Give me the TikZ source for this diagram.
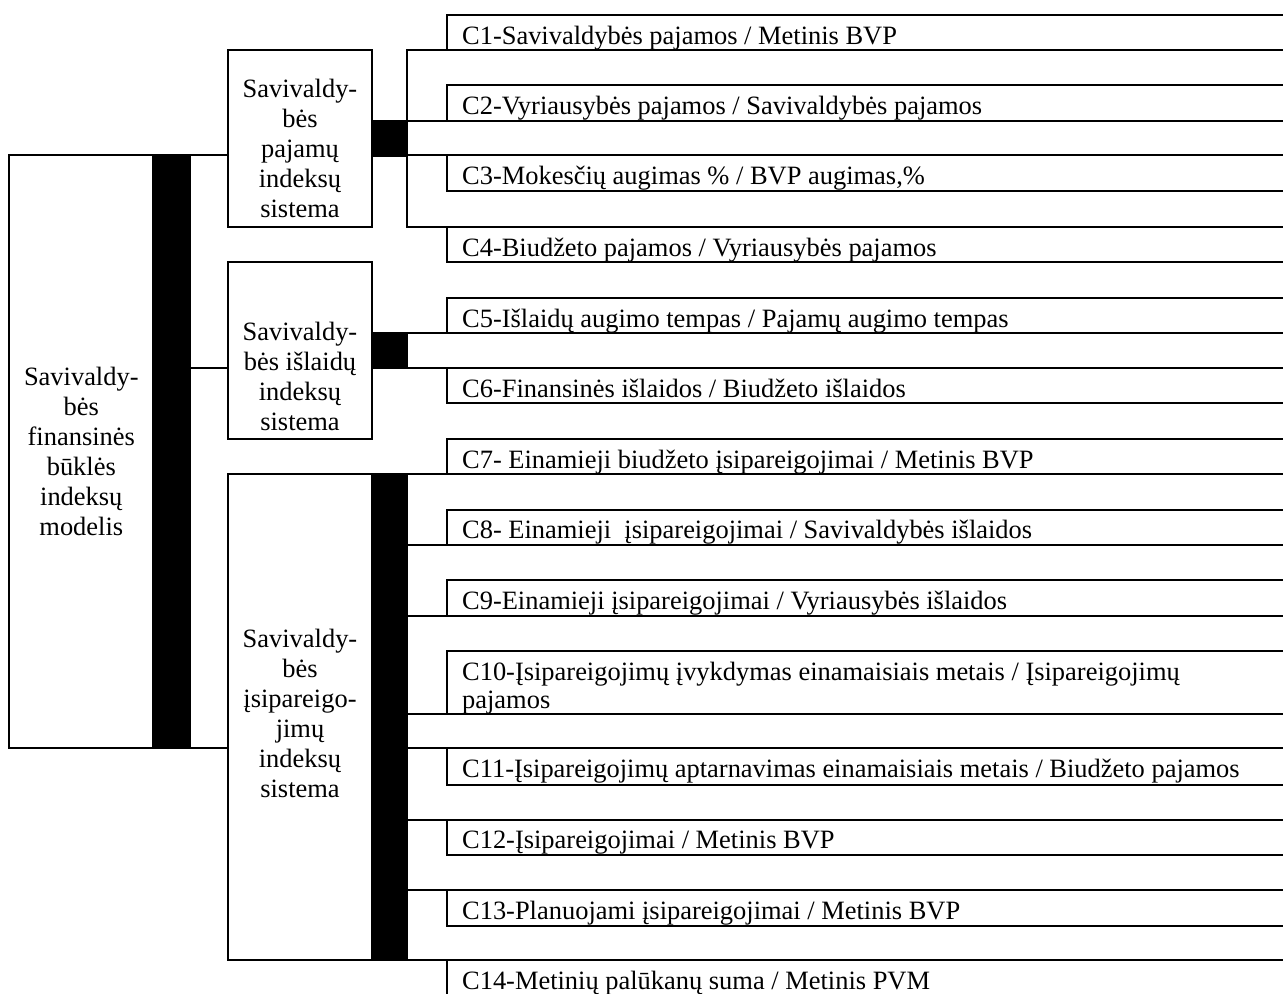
\documentclass[tikz,border=0pt]{standalone}
\usepackage{fontspec}
\setmainfont{Liberation Serif}
\usepackage{tikz}
\usetikzlibrary{positioning}
\newcommand{\pxu}{0.45pt}
\tikzset{
	sysbox/.style={draw, line width=0.9pt, inner sep=0pt, outer sep=0pt, minimum width=144.6*\pxu},
	sysbar/.style={draw, fill=black, line width=0.9pt, inner sep=0pt, outer sep=0pt, minimum width=35*\pxu},
	cbox/.style={draw, line width=0.9pt, inner sep=0pt, outer sep=0pt, minimum width=880*\pxu, anchor=north west},
	systext/.style={align=center, inner sep=0pt, anchor=north},
	ctext/.style={align=left, inner sep=0pt, anchor=north west, font=\fontsize{11.9}{12.9}\selectfont},
	link/.style={line width=0.9pt}
}

\begin{document}
\begin{tikzpicture}[x=\pxu, y=-\pxu, font=\fontsize{11.9}{13.5}\selectfont]
	% page
	\useasboundingbox (0,0) rectangle (1283,993);
	\clip (0,0) rectangle (1283,993);
	% model
	\node[sysbox, minimum width=144*\pxu, minimum height=593*\pxu] (model) at (81.3,451.5) {};
	\node[sysbar, minimum width=36.7*\pxu, minimum height=593*\pxu, right=0pt of model] (modelbar) {};
	\node[systext] (modeltxt) at (81.3,367) {Savivaldy-\\bės\\finansinės\\būklės\\indeksų\\modelis};
	% systems
	\node[sysbox, minimum height=177*\pxu] (rev) at (300,138.5) {};
	\node[sysbar, minimum height=34.3*\pxu, right=0pt of rev] (revbar) {};
	\node[systext] (revtxt) at (300,78.7) {Savivaldy-\\bės\\pajamų\\indeksų\\sistema};
	\node[sysbox, minimum height=176.5*\pxu] (exp) at (300,350.25) {};
	\node[sysbar, minimum height=35.5*\pxu, right=0pt of exp] (expbar) {};
	\node[systext] (exptxt) at (300,322) {Savivaldy-\\bės išlaidų\\indeksų\\sistema};
	\node[sysbox, minimum height=486*\pxu] (debt) at (300,717) {};
	\node[sysbar, minimum height=486*\pxu, right=0pt of debt] (debtbar) {};
	\node[systext] (debttxt) at (300,628.7) {Savivaldy-\\bės\\įsipareigo-\\jimų\\indeksų\\sistema};
	% links to the systems
	\draw[link] (modelbar.north east) -- (modelbar.north east -| rev.west);
	\draw[link] (modelbar.east |- expbar.south) -- (exp.west |- expbar.south);
	\draw[link] (modelbar.south east) -- (modelbar.south east -| debt.west);
	% indices
	\foreach \i/\ya/\yb/\txt in {
		1/15/49.5/{C1-Savivaldybės pajamos / Metinis BVP},
		2/85/120.5/{C2-Vyriausybės pajamos / Savivaldybės pajamos},
		3/155/191/{C3-Mokesčių augimas \% / BVP augimas,\%},
		4/227/262/{C4-Biudžeto pajamos / Vyriausybės pajamos},
		5/298/332.5/{C5-Išlaidų augimo tempas / Pajamų augimo tempas},
		6/368/403/{C6-Finansinės išlaidos / Biudžeto išlaidos},
		7/439/474/{C7- Einamieji biudžeto įsipareigojimai / Metinis BVP},
		8/509.5/545/{C8- Einamieji\ \ įsipareigojimai / Savivaldybės išlaidos},
		9/580/615.5/{C9-Einamieji įsipareigojimai / Vyriausybės išlaidos},
		10/651/713.5/{C10-Įsipareigojimų įvykdymas einamaisiais metais / Įsipareigojimų\\pajamos},
		11/748/784.5/{C11-Įsipareigojimų aptarnavimas einamaisiais metais / Biudžeto pajamos},
		12/820/854.5/{C12-Įsipareigojimai / Metinis BVP},
		13/890/926/{C13-Planuojami įsipareigojimai / Metinis BVP},
		14/960/1000/{C14-Metinių palūkanų suma / Metinis PVM}}
	{
		\node[cbox, minimum height={(\yb-\ya)*\pxu}] (c\i) at (446.7,\ya) {};
		\node[ctext] (t\i) at (461.7,{\ya+10.4}) {\txt};
	}
	% links to the indices
	\draw[link] (c1.south west) -- (c1.south west -| revbar.east) -- (c4.north west -| revbar.east) -- (c4.north west);
	\draw[link] (c2.south west) -- (c2.south west -| revbar.east);
	\draw[link] (c3.north west) -- (c3.north west -| revbar.east);
	\draw[link] (c5.south west) -- (c5.south west -| expbar.east);
	\draw[link] (c6.north west) -- (c6.north west -| expbar.east);
	\foreach \i in {7,...,10}
		\draw[link] (c\i.south west) -- (c\i.south west -| debtbar.east);
	\foreach \i in {11,...,14}
		\draw[link] (c\i.north west) -- (c\i.north west -| debtbar.east);
\end{tikzpicture}
\end{document}
